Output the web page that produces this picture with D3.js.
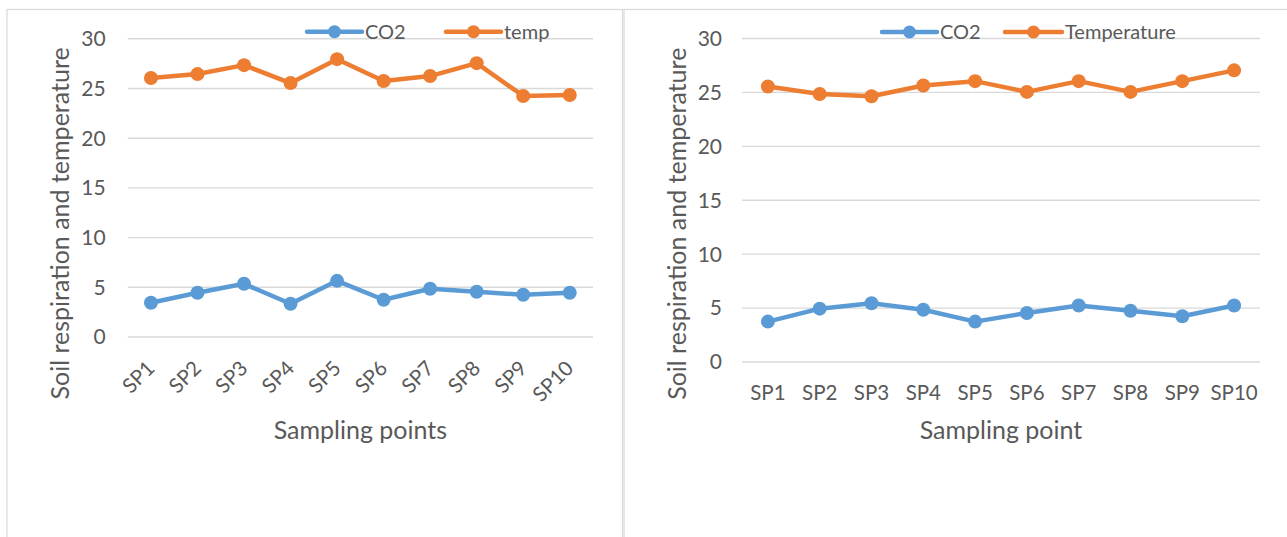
<!DOCTYPE html>
<html>
<head>
<meta charset="utf-8">
<script src="https://cdn.jsdelivr.net/npm/d3@7"></script>
<style>
  html, body { margin: 0; padding: 0; background: #fff; }
  svg { display: block; }
  text { font-family: Lato, "Open Sans", sans-serif; fill: #595959; }
</style>
</head>
<body>
<svg id="chart" width="1287" height="537"></svg>
<script>
// Sampling points shared by both panels
const categories = ["SP1", "SP2", "SP3", "SP4", "SP5", "SP6", "SP7", "SP8", "SP9", "SP10"];
const yTicks = [0, 5, 10, 15, 20, 25, 30];

// Panel A: soil CO2 respiration and temperature
const co2A  = [3.4, 4.4, 5.3, 3.3, 5.6, 3.7, 4.8, 4.5, 4.2, 4.4];
const tempA = [26.0, 26.4, 27.3, 25.5, 27.9, 25.7, 26.2, 27.5, 24.2, 24.3];

// Panel B: soil CO2 respiration and temperature
const co2B  = [3.7, 4.9, 5.4, 4.8, 3.7, 4.5, 5.2, 4.7, 4.2, 5.2];
const tempB = [25.5, 24.8, 24.6, 25.6, 26.0, 25.0, 26.0, 25.0, 26.0, 27.0];

const BLUE = "#5B9BD5", ORANGE = "#ED7D31", GRID = "#D9D9D9";

const svg = d3.select("#chart");

function drawPanel(cfg) {
  const g = svg.append("g");

  // frame
  g.append("rect")
    .attr("x", cfg.frame[0]).attr("y", cfg.frame[1])
    .attr("width", cfg.frame[2]).attr("height", cfg.frame[3])
    .attr("fill", "none").attr("stroke", GRID).attr("stroke-width", 1.2);

  const x = d3.scaleBand().domain(categories).range(cfg.xRange);
  const y = d3.scaleLinear().domain([0, 30]).range(cfg.yRange);

  // horizontal gridlines
  const yAxis = d3.axisLeft(y).tickValues(yTicks).tickSize(-(cfg.xRange[1] - cfg.xRange[0])).tickPadding(20);
  const ya = g.append("g").attr("transform", `translate(${cfg.xRange[0]},0)`).call(yAxis);
  ya.select(".domain").remove();
  ya.selectAll(".tick line").attr("stroke", GRID).attr("stroke-width", 1.4);
  ya.selectAll(".tick text").attr("font-size", 21).attr("fill", "#595959")
    .style("font-family", "Lato, sans-serif").attr("dy", "0.35em").attr("x", -cfg.tickGap);

  // category labels
  const xAxis = d3.axisBottom(x).tickSize(0).tickPadding(0);
  const xa = g.append("g").attr("transform", `translate(0,${cfg.yRange[0]})`).call(xAxis);
  xa.select(".domain").remove();
  xa.selectAll(".tick text").attr("font-size", 20.5).attr("fill", "#595959")
    .style("font-family", "Lato, sans-serif");
  if (cfg.rotate) {
    xa.selectAll(".tick text")
      .attr("text-anchor", "end")
      .attr("dy", null)
      .attr("y", 0)
      .attr("transform", "translate(5,33) rotate(-45)");
  } else {
    xa.selectAll(".tick text").attr("dy", null).attr("y", cfg.xLabelY - cfg.yRange[0]);
  }

  // series lines and markers
  const series = [
    { values: cfg.co2, color: BLUE },
    { values: cfg.temp, color: ORANGE }
  ];
  const line = d3.line()
    .x((d, i) => x(categories[i]) + x.bandwidth() / 2)
    .y(d => y(d));
  series.forEach(s => {
    g.append("path").datum(s.values)
      .attr("d", line).attr("fill", "none")
      .attr("stroke", s.color).attr("stroke-width", 4.5)
      .attr("stroke-linejoin", "round").attr("stroke-linecap", "round");
    g.selectAll(null).data(s.values).enter().append("circle")
      .attr("cx", (d, i) => x(categories[i]) + x.bandwidth() / 2)
      .attr("cy", d => y(d))
      .attr("r", 7).attr("fill", s.color);
  });

  // axis titles
  g.append("text")
    .attr("transform", `translate(${cfg.yTitleX},${(cfg.yRange[0] + cfg.yRange[1]) / 2 + cfg.yTitleShift}) rotate(-90)`)
    .attr("text-anchor", "middle").attr("dominant-baseline", "central")
    .attr("font-size", 25)
    .text("Soil respiration and temperature");
  g.append("text")
    .attr("x", (cfg.xRange[0] + cfg.xRange[1]) / 2).attr("y", cfg.xTitleY)
    .attr("text-anchor", "middle").attr("font-size", 25)
    .text(cfg.xTitle);

  // legend
  cfg.legend.forEach(item => {
    const lg = g.append("g");
    lg.append("line")
      .attr("x1", item.x0).attr("x2", item.x1)
      .attr("y1", cfg.legendY).attr("y2", cfg.legendY)
      .attr("stroke", item.color).attr("stroke-width", 4.5).attr("stroke-linecap", "round");
    lg.append("circle")
      .attr("cx", (item.x0 + item.x1) / 2).attr("cy", cfg.legendY)
      .attr("r", 6.5).attr("fill", item.color);
    lg.append("text")
      .attr("x", item.x1 + 3).attr("y", cfg.legendY).attr("dy", "0.35em")
      .attr("font-size", 20).text(item.label);
  });
}

drawPanel({
  frame: [7, 9.5, 615.5, 560],
  xRange: [127.7, 593],
  yRange: [336.5, 38.3],
  tickGap: 22,
  rotate: true,
  co2: co2A, temp: tempA,
  yTitleX: 59, yTitleShift: 36,
  xTitle: "Sampling points", xTitleY: 439,
  legendY: 31.7,
  legend: [
    { x0: 307, x1: 362, color: BLUE, label: "CO2" },
    { x0: 446, x1: 501, color: ORANGE, label: "temp" }
  ]
});

drawPanel({
  frame: [624, 9.5, 700, 560],
  xRange: [742, 1260],
  yRange: [361.5, 38],
  tickGap: 20,
  rotate: false,
  xLabelY: 400,
  co2: co2B, temp: tempB,
  yTitleX: 676, yTitleShift: 24,
  xTitle: "Sampling point", xTitleY: 439,
  legendY: 32,
  legend: [
    { x0: 882, x1: 937, color: BLUE, label: "CO2" },
    { x0: 1005, x1: 1062, color: ORANGE, label: "Temperature" }
  ]
});
</script>
</body>
</html>
